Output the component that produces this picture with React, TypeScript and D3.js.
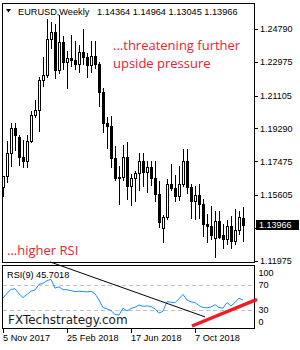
import React from "react";
import * as d3 from "d3";

// Weekly EURUSD candles, first week starting 5 Nov 2017
const firstWeek = new Date(Date.UTC(2017, 10, 5));
const opens = [1.1607, 1.1665, 1.1792, 1.1933, 1.1880, 1.1772, 1.1750, 1.1859, 1.2005, 1.2031, 1.2198, 1.2222, 1.2426, 1.2461, 1.2252, 1.2407, 1.2296, 1.2318, 1.2306, 1.2286, 1.2352, 1.2323, 1.2280, 1.2331, 1.2288, 1.2130, 1.1960, 1.1942, 1.1766, 1.1655, 1.1658, 1.1769, 1.1609, 1.1655, 1.1684, 1.1747, 1.1686, 1.1718, 1.1657, 1.1568, 1.1378, 1.1440, 1.1620, 1.1601, 1.1553, 1.1623, 1.1748, 1.1605, 1.1525, 1.1559, 1.1511, 1.1401, 1.1387, 1.1322, 1.1419, 1.1337, 1.1320, 1.1390, 1.1305, 1.1370, 1.14364];
const highs = [1.1668, 1.1861, 1.1961, 1.1961, 1.1895, 1.1863, 1.1890, 1.2023, 1.2089, 1.2216, 1.2323, 1.2537, 1.2520, 1.2507, 1.2556, 1.2440, 1.2355, 1.2446, 1.2413, 1.2388, 1.2477, 1.2345, 1.2414, 1.2413, 1.2297, 1.2150, 1.1995, 1.1996, 1.1831, 1.1720, 1.1840, 1.1852, 1.1676, 1.1692, 1.1791, 1.1791, 1.1749, 1.1750, 1.1748, 1.1637, 1.1450, 1.1651, 1.1734, 1.1669, 1.1721, 1.1815, 1.1815, 1.1620, 1.1608, 1.1621, 1.1537, 1.1456, 1.1500, 1.1472, 1.1472, 1.1403, 1.1423, 1.1443, 1.1486, 1.1473, 1.14964];
const lows = [1.1555, 1.1631, 1.1722, 1.1812, 1.1729, 1.1716, 1.1717, 1.1854, 1.1995, 1.1916, 1.2165, 1.2215, 1.2375, 1.2206, 1.2234, 1.2260, 1.2154, 1.2273, 1.2258, 1.2240, 1.2287, 1.2216, 1.2241, 1.2263, 1.2054, 1.1910, 1.1823, 1.1717, 1.1645, 1.1510, 1.1644, 1.1541, 1.1508, 1.1529, 1.1589, 1.1612, 1.1575, 1.1614, 1.1530, 1.1384, 1.1301, 1.1430, 1.1587, 1.1526, 1.1531, 1.1613, 1.1572, 1.1433, 1.1429, 1.1433, 1.1335, 1.1302, 1.1316, 1.1216, 1.1324, 1.1266, 1.1290, 1.1269, 1.1290, 1.1345, 1.13045];
const closes = [1.1665, 1.1792, 1.1933, 1.1894, 1.1772, 1.1750, 1.1859, 1.2005, 1.2031, 1.2198, 1.2222, 1.2426, 1.2461, 1.2252, 1.2407, 1.2296, 1.2318, 1.2306, 1.2286, 1.2352, 1.2323, 1.2280, 1.2331, 1.2288, 1.2130, 1.1960, 1.1942, 1.1766, 1.1655, 1.1658, 1.1769, 1.1609, 1.1655, 1.1684, 1.1747, 1.1686, 1.1718, 1.1657, 1.1568, 1.1410, 1.1440, 1.1620, 1.1601, 1.1553, 1.1623, 1.1748, 1.1605, 1.1525, 1.1559, 1.1511, 1.1401, 1.1387, 1.1337, 1.1419, 1.1328, 1.1320, 1.1390, 1.1305, 1.1370, 1.1440, 1.13966];
const rsiValues = [49, 57, 63, 64, 56, 50, 55, 60, 62, 71, 72.5, 77, 79, 65, 67, 62.5, 62.5, 61, 59.5, 60, 59.5, 59, 60, 56, 46, 34, 32, 29, 23, 22, 33, 28.5, 32.5, 34.5, 38, 36, 36.5, 35.5, 32, 25, 28, 43.5, 42.5, 41.5, 48, 55, 46, 43, 42, 37, 34, 33.5, 35, 38.5, 34, 33, 42, 36.5, 42, 49, 45.7018];

const priceTicks = [1.2479, 1.22975, 1.21105, 1.1929, 1.17475, 1.15605, 1.1379, 1.11975];
const rsiTicks = [100, 70, 30, 0];
const rsiLevels = [70, 30];
const dateTicks = [new Date(Date.UTC(2017, 10, 5)), new Date(Date.UTC(2018, 1, 25)), new Date(Date.UTC(2018, 5, 17)), new Date(Date.UTC(2018, 9, 7))];

// trendlines: [week index, RSI value]
const blackTrend: [number, number][] = [[11.75, 107], [50.5, 19]];
const redTrend: [number, number][] = [[47.25, 4.4], [63.5, 47]];

const symbol = "EURUSD,Weekly";
const rsiTitle = "RSI(9)";
const note1 = ["...threatening further", "upside pressure"];
const note2 = "...higher RSI";
const watermark = "FXTechstrategy.com";

const FONT = "'Liberation Sans', Arial, sans-serif";

export default function App() {
  const n = opens.length;
  const last = n - 1;
  const x = d3.scaleLinear().domain([0, last]).range([3, 243]);
  const y = d3.scaleLinear().domain([1.11975, 1.2479]).range([260.7, 29]);
  const r = d3.scaleLinear().domain([0, 100]).range([328.75, 266.25]);
  const fmt = d3.format(".5f");
  const dateFmt = d3.utcFormat("%-d %b %Y");

  const mainL = 2.5, mainR = 254.5, mainT = 3.5, mainB = 262.5;
  const rsiT = 265.5, rsiB = 328.5;

  const rsiLine = d3.line<number>().x((_, i) => x(i)).y((v) => r(v));
  const trend = d3.line<[number, number]>().x((d) => x(d[0])).y((d) => r(d[1]));

  const lastClose = closes[last];
  const yc = Math.round(y(lastClose));

  return (
    <svg width={300} height={350} style={{ position: "absolute", left: 0, top: 0, background: "#fff" }} fontFamily={FONT}>
      <rect x={0} y={0} width={300} height={350} fill="#fff" />
      {/* candles */}
      {opens.map((o, i) => {
        const cx = Math.round(x(i));
        const c = closes[i];
        const yH = Math.round(y(highs[i]));
        const yL = Math.round(y(lows[i]));
        const yTop = Math.round(y(Math.max(o, c)));
        const yBot = Math.round(y(Math.min(o, c)));
        const bh = Math.max(1, yBot - yTop + 1);
        const bull = c >= o;
        return (
          <g key={i}>
            <rect x={cx} y={yH} width={1} height={yL - yH + 1} fill="#000" />
            <rect x={cx - 1} y={yTop} width={3} height={bh} fill="#000" />
            {bull && bh > 2 && <rect x={cx} y={yTop + 1} width={1} height={bh - 2} fill="#fff" />}
          </g>
        );
      })}
      {/* main frame */}
      <rect x={mainL} y={mainT} width={mainR - mainL} height={mainB - mainT} fill="none" stroke="#000" strokeWidth={1} />
      {/* header */}
      <path d="M6,9 L11,9 L8.5,12.5 Z" fill="#000" />
      <text x={18} y={14.5} fontSize={9.2} fill="#000">{symbol}</text>
      <text x={97} y={14.5} fontSize={9.2} fill="#000">
        {[opens[last], highs[last], lows[last], closes[last]].map(fmt).join(" ")}
      </text>
      {/* price axis */}
      {priceTicks.map((p) => {
        const hidden = Math.abs(y(p) - yc) < 9;
        return (
          <g key={p}>
            <line x1={255} x2={258} y1={Math.round(y(p)) + 0.5} y2={Math.round(y(p)) + 0.5} stroke="#000" />
            {!hidden && <text x={260} y={y(p) + 3.3} fontSize={9} fill="#000">{fmt(p)}</text>}
          </g>
        );
      })}
      <rect x={256} y={yc - 5} width={43} height={10} fill="#000" />
      <text x={259} y={yc + 3.3} fontSize={9} fill="#fff">{fmt(lastClose)}</text>
      {/* annotations */}
      {note1.map((t, k) => (
        <text key={k} x={113} y={50 + k * 18} fontSize={13} fill="#ee2030" fontFamily="'Open Sans', sans-serif">{t}</text>
      ))}
      <text x={7} y={255} fontSize={13} fill="#ee2030" fontFamily="'Open Sans', sans-serif">{note2}</text>
      {/* RSI panel */}
      {rsiLevels.map((v) => (
        <line key={v} x1={3} x2={254} y1={Math.round(r(v)) + 0.5} y2={Math.round(r(v)) + 0.5} stroke="#c0c0c0" strokeDasharray="4 3" />
      ))}
      <path d={rsiLine(rsiValues) || ""} fill="none" stroke="#1e90ff" strokeWidth={1} />
      <rect x={mainL} y={rsiT} width={mainR - mainL} height={rsiB - rsiT} fill="none" stroke="#000" strokeWidth={1} />
      <text x={7} y={277.7} fontSize={9.2} fill="#000">{`${rsiTitle} ${rsiValues[last].toFixed(4)}`}</text>
      {rsiTicks.map((v) => (
        <text key={v} x={258.5} y={Math.min(Math.max(r(v), rsiT + 7), rsiB - 7) + 3.3} fontSize={9} fill="#000">{v}</text>
      ))}
      <path d={trend(blackTrend) || ""} fill="none" stroke="#000" strokeWidth={1} />
      <path d={trend(redTrend) || ""} fill="none" stroke="#ee1c25" strokeWidth={3.5} />
      <text x={8} y={324.3} fontSize={12} fill="#1c1c1c" fontFamily="'DejaVu Sans', sans-serif">{watermark}</text>
      {/* date axis */}
      {dateTicks.map((d) => {
        const i = d3.utcWeek.count(firstWeek, d);
        const cx = Math.round(x(i));
        return (
          <g key={i}>
            <line x1={cx + 0.5} x2={cx + 0.5} y1={329} y2={333} stroke="#000" />
            <text x={cx} y={340.7} fontSize={9.2} fill="#000">{dateFmt(d)}</text>
          </g>
        );
      })}
    </svg>
  );
}
